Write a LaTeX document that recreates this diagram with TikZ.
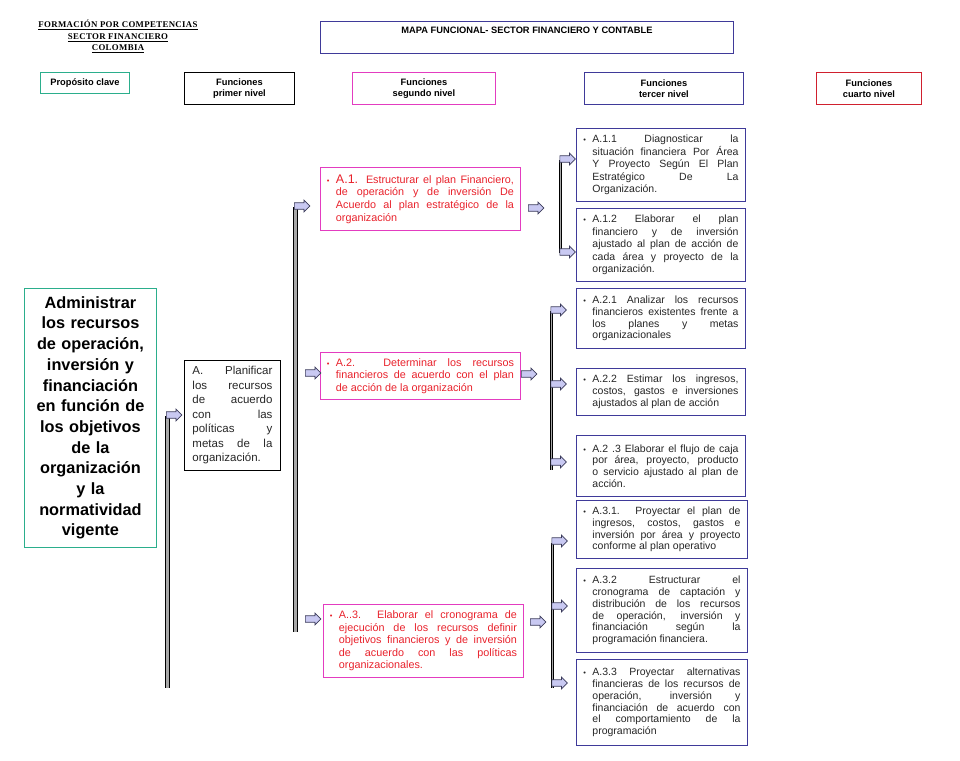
\documentclass[tikz,border=0pt]{standalone}
\usepackage{fontspec}
\setmainfont{Liberation Sans}
\newfontfamily\hdrfont[LetterSpace=4.0]{Liberation Serif}
\usetikzlibrary{shapes.arrows}

\definecolor{tealb}{HTML}{2BAE8C}
\definecolor{indig}{HTML}{3F3A99}
\definecolor{magen}{HTML}{E33CC0}
\definecolor{redb}{HTML}{D0202E}
\definecolor{redt}{HTML}{E8212B}
\definecolor{txtg}{HTML}{262626}
\definecolor{arrfill}{HTML}{C9C9F2}
\definecolor{arrdraw}{HTML}{3A3A5A}
\definecolor{barfill}{HTML}{A8A8A8}

\newcommand\jl[1]{\makebox[\linewidth][s]{#1}\\}
\newcommand\bul{\makebox[9pt][l]{{\fontsize{7.5}{7}\selectfont •}}}
\newcommand\bitem[2]{\bul\parbox[t]{#1pt}{#2}}

\tikzset{
  box/.style={draw, line width=0.9pt, anchor=north west, inner sep=0pt},
  sz/.style 2 args={minimum width=#1pt, minimum height=#2pt},
  headlbl/.style={box, align=center, font=\fontsize{9.3}{11}\selectfont\bfseries},
  lvltwo/.style={box, draw=magen, text=redt, font=\fontsize{10.8}{12.6}\selectfont},
  lvlthree/.style={box, draw=indig, text=txtg, font=\fontsize{10.5}{12.6}\selectfont},
  lvlthreeb/.style={box, draw=indig, text=txtg, font=\fontsize{10.5}{11.8}\selectfont},
  barrow/.style={single arrow, draw=arrdraw, fill=arrfill, line width=0.7pt,
    minimum height=15.5pt, single arrow head extend=2.7pt, inner xsep=0pt,
    inner ysep=2.9pt, anchor=tail},
  vbar/.style={draw=black, line width=0.9pt, double=barfill, double distance=2.4pt},
  vbarthin/.style={draw=black, line width=0.8pt, double=barfill, double distance=1.8pt}
}

\begin{document}
\begin{tikzpicture}[x=1pt,y=-1pt]
\useasboundingbox (0,0) rectangle (960,760);

% header
\node[align=center, font=\hdrfont\bfseries\fontsize{8.8}{11.5}\selectfont] (hdr) at (118,36.5)
  {\underline{FORMACIÓN POR COMPETENCIAS}\\\underline{SECTOR FINANCIERO}\\\underline{COLOMBIA}};
\node[box, draw=indig, sz={413}{32}, text height=12.3pt, text depth=19.7pt,
  font=\fontsize{9.3}{11}\selectfont\bfseries] (mapa) at (320,21)
  {MAPA FUNCIONAL- SECTOR FINANCIERO Y CONTABLE};

% column headings
\node[headlbl, draw=tealb, sz={89}{21}] (hprop) at (40,72) {Propósito clave};
\node[headlbl, draw=black, sz={110}{32}] (hone) at (184,72) {Funciones\\primer nivel};
\node[headlbl, draw=magen, sz={143}{32}] (htwo) at (352,72) {Funciones\\segundo nivel};
\node[headlbl, draw=indig, sz={159}{32}] (hthree) at (584,72) {Funciones\\tercer nivel};
\node[headlbl, draw=redb, sz={105}{32}] (hfour) at (816,72) {Funciones\\cuarto nivel};

% key purpose
\node[box, draw=tealb, sz={132}{259}, align=center, text width=128pt,
  font=\fontsize{16.3}{20.7}\selectfont\bfseries] (prop) at (24,288)
  {Administrar\\los recursos\\de operación,\\inversión y\\financiación\\en función de\\los objetivos\\de la\\organización\\y la\\normatividad\\vigente};

% first level
\node[box, draw=black, sz={96}{110}, text=txtg, font=\fontsize{11.5}{14.5}\selectfont] (fa) at (184,360)
  {\parbox[t]{80pt}{\jl{A. Planificar}\jl{los recursos}\jl{de acuerdo}\jl{con las}\jl{políticas y}\jl{metas de la}organización.}};

% second level
\node[lvltwo, sz={200}{63}] (a1) at (320,167)
  {\bitem{178}{\jl{{\fontsize{12.5}{12.6}\selectfont A.1.} Estructurar el plan Financiero,}\jl{de operación y de inversión De}\jl{Acuerdo al plan estratégico de la}organización}};
\node[lvltwo, sz={200}{47}] (a2) at (320,352)
  {\bitem{178}{\jl{A.2. Determinar los recursos}\jl{financieros de acuerdo con el plan}de acción de la organización}};
\node[lvltwo, sz={200}{73}] (a3) at (323,604)
  {\bitem{178}{\jl{A..3. Elaborar el cronograma de}\jl{ejecución de los recursos definir}\jl{objetivos financieros y de inversión}\jl{de acuerdo con las políticas}organizacionales.}};

% third level
\node[lvlthree, sz={169}{73}] (a11) at (576,128)
  {\bitem{146}{\jl{A.1.1 Diagnosticar la}\jl{situación financiera Por Área}\jl{Y Proyecto Según El Plan}\jl{Estratégico De La}Organización.}};
\node[lvlthree, sz={169}{73}] (a12) at (576,208)
  {\bitem{146}{\jl{A.1.2 Elaborar el plan}\jl{financiero y de inversión}\jl{ajustado al plan de acción de}\jl{cada área y proyecto de la}organización.}};
\node[lvlthreeb, sz={169}{60}] (a21) at (576,288)
  {\bitem{146}{\jl{A.2.1 Analizar los recursos}\jl{financieros existentes frente a}\jl{los planes y metas}organizacionales}};
\node[lvlthreeb, sz={169}{47}] (a22) at (576,368)
  {\bitem{146}{\jl{A.2.2 Estimar los ingresos,}\jl{costos, gastos e inversiones}ajustados al plan de acción}};
\node[lvlthreeb, sz={169}{61}] (a23) at (576,435)
  {\bitem{146}{\jl{A.2 .3 Elaborar el flujo de caja}\jl{por área, proyecto, producto}\jl{o servicio ajustado al plan de}acción.}};
\node[lvlthreeb, sz={171}{58}] (a31) at (576,500)
  {\bitem{148}{\jl{A.3.1. Proyectar el plan de}\jl{ingresos, costos, gastos e}\jl{inversión por área y proyecto}conforme al plan operativo}};
\node[lvlthreeb, sz={171}{84}] (a32) at (576,568)
  {\bitem{148}{\jl{A.3.2 Estructurar el}\jl{cronograma de captación y}\jl{distribución de los recursos}\jl{de operación, inversión y}\jl{financiación según la}programación financiera.}};
\node[lvlthreeb, sz={171}{86}] (a33) at (576,659)
  {\bitem{148}{\jl{A.3.3 Proyectar alternativas}\jl{financieras de los recursos de}\jl{operación, inversión y}\jl{financiación de acuerdo con}\jl{el comportamiento de la}programación}};

% vertical bars
\coordinate (b1t) at (167.5,416); \coordinate (b1b) at (167.5,688);
\coordinate (b2t) at (295.5,207); \coordinate (b2b) at (295.5,632);
\coordinate (b3t) at (560.5,160); \coordinate (b3b) at (560.5,253);
\coordinate (b4t) at (551.5,311); \coordinate (b4b) at (551.5,470);
\coordinate (b5t) at (552.5,543); \coordinate (b5b) at (552.5,688);
\draw[vbar] (b1t) -- (b1b);
\draw[vbar] (b2t) -- (b2b);
\draw[vbarthin] (b3t) -- (b3b);
\draw[vbarthin] (b4t) -- (b4b);
\draw[vbarthin] (b5t) -- (b5b);

% block arrows
\node[barrow] (r1) at (166,415) {};
\node[barrow] (r2) at (294,206) {};
\node[barrow] (r3) at (305,373) {};
\node[barrow] (r4) at (305,619) {};
\node[barrow] (r5) at (528,208) {};
\node[barrow] (r6) at (521,374) {};
\node[barrow] (r7) at (530,622) {};
\node[barrow] (r8) at (559.5,159) {};
\node[barrow] (r9) at (559.5,252) {};
\node[barrow] (r10) at (550.5,310) {};
\node[barrow] (r11) at (550.5,384) {};
\node[barrow] (r12) at (550.5,462) {};
\node[barrow] (r13) at (551.5,541) {};
\node[barrow] (r14) at (551.5,606) {};
\node[barrow] (r15) at (551.5,683) {};
\end{tikzpicture}
\end{document}
